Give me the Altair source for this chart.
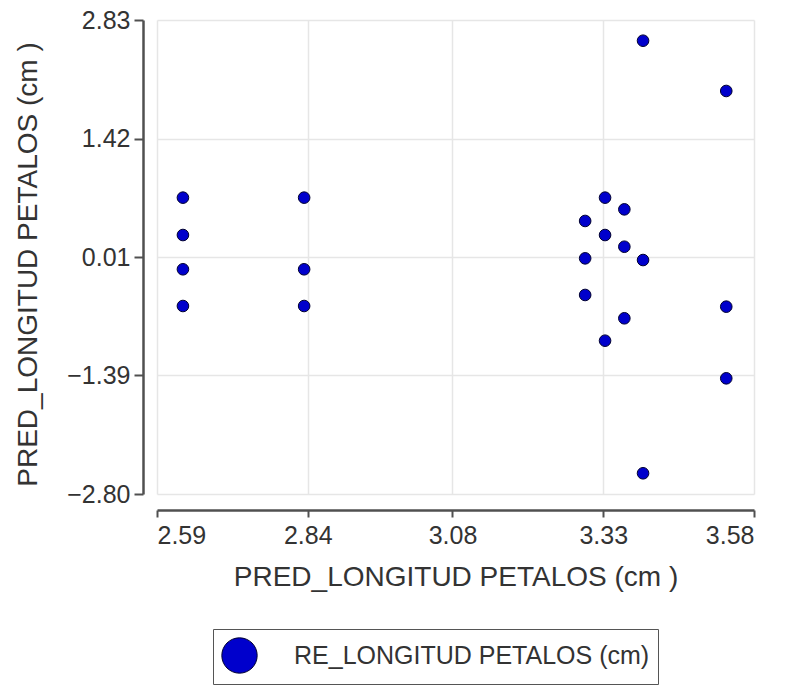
import altair as alt
import pandas as pd

x_vals = [2.633, 2.633, 2.633, 2.633,
          2.834, 2.834, 2.834,
          3.396, 3.534,
          3.333, 3.365, 3.300, 3.333, 3.365, 3.300, 3.396, 3.300, 3.534, 3.365, 3.333,
          3.534, 3.396]
y_vals = [0.72, 0.276, -0.131, -0.567,
          0.72, -0.131, -0.567,
          2.584, 1.987,
          0.72, 0.581, 0.443, 0.276, 0.137, -0.001, -0.021, -0.436, -0.575, -0.713, -0.979,
          -1.426, -2.554]
series_name = "RE_LONGITUD PETALOS (cm)"
x_ticks = [2.59, 2.84, 3.08, 3.33, 3.58]
y_ticks = [-2.80, -1.39, 0.01, 1.42, 2.83]

df = pd.DataFrame({"x": x_vals, "y": y_vals, "s": [series_name] * len(x_vals)})

FONT = "Liberation Sans"

chart = alt.Chart(df).mark_point(
    filled=True, size=135, stroke="#000030", strokeWidth=1, opacity=1
).encode(
    x=alt.X("x:Q", scale=alt.Scale(domain=[2.59, 3.58], nice=False, zero=False),
            axis=alt.Axis(values=x_ticks, format=".2f", title="PRED_LONGITUD PETALOS (cm )",
                          offset=16, tickSize=7, labelPadding=6, titlePadding=15)),
    y=alt.Y("y:Q", scale=alt.Scale(domain=[-2.80, 2.83], nice=False, zero=False),
            axis=alt.Axis(values=y_ticks, format=".2f", title="PRED_LONGITUD PETALOS (cm )",
                          offset=14, tickSize=9, labelPadding=4, titlePadding=24,
                          titleY=244)),
    color=alt.Color("s:N", scale=alt.Scale(domain=[series_name], range=["#0000cc"]),
                    legend=alt.Legend(title=None, orient="none", legendX=56, legendY=609,
                                      symbolSize=1250, symbolType="circle",
                                      symbolStrokeColor="#000030", symbolStrokeWidth=1,
                                      labelFontSize=25, labelFont=FONT, labelColor="#333333",
                                      labelOffset=36, labelLimit=600,
                                      strokeColor="#555555", padding=8,
                                      fillColor="white")),
).properties(
    width=597, height=474,
    autosize=alt.AutoSizeParams(type="none"),
    padding={"left": 157, "top": 20, "right": 32, "bottom": 192},
).configure_view(
    stroke=None
).configure_axis(
    labelFont=FONT, titleFont=FONT, labelFontSize=25, titleFontSize=28,
    labelColor="#333333", titleColor="#333333", titleFontWeight="normal",
    domainColor="#505050", domainWidth=2.5, tickColor="#505050", tickWidth=2,
    gridColor="#e6e6e6", gridWidth=1.5,
)

chart.save("out.html", embed_options={"renderer": "svg", "actions": False})
